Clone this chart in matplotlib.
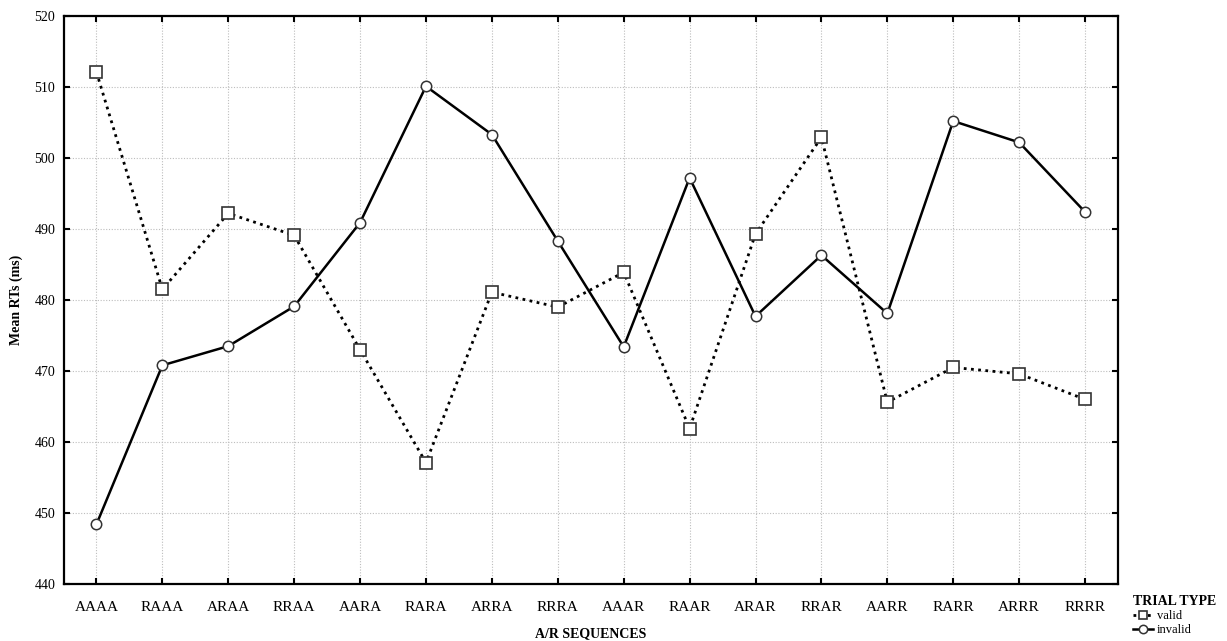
import matplotlib
matplotlib.use("Agg")
import matplotlib.pyplot as plt

sequences = ["AAAA", "RAAA", "ARAA", "RRAA", "AARA", "RARA", "ARRA", "RRRA",
             "AAAR", "RAAR", "ARAR", "RRAR", "AARR", "RARR", "ARRR", "RRRR"]
valid = [512.1, 481.5, 492.2, 489.1, 473.0, 457.1, 481.1, 479.0,
         483.9, 461.9, 489.3, 502.9, 465.6, 470.5, 469.6, 466.0]
invalid = [448.4, 470.8, 473.5, 479.1, 490.9, 510.1, 503.3, 488.3,
           473.4, 497.2, 477.7, 486.3, 478.1, 505.2, 502.2, 492.4]
y_ticks = [440, 450, 460, 470, 480, 490, 500, 510, 520]

plt.rcParams['font.family'] = ['Liberation Serif', 'DejaVu Serif']

fig = plt.figure(figsize=(12.27, 6.41), dpi=100)
ax = fig.add_axes([63.5 / 1227, 1 - 584 / 641, (1118 - 63.5) / 1227, (584 - 16) / 641])

x = list(range(len(sequences)))
ax.plot(x, valid, linestyle=(0, (1, 1.6)), color='black', linewidth=2.0,
        marker='s', markersize=8, markerfacecolor='white', markeredgecolor='#333333',
        markeredgewidth=1.2, label='valid', zorder=3)
ax.plot(x, invalid, linestyle='-', color='black', linewidth=1.8,
        marker='o', markersize=7.5, markerfacecolor='white', markeredgecolor='#333333',
        markeredgewidth=1.1, label='invalid', zorder=3)

ax.set_xlim(-0.5, 15.5)
ax.set_ylim(440, 520)
ax.set_xticks(x)
ax.set_xticklabels(sequences, fontsize=11)
ax.set_yticks(y_ticks)
ax.set_yticklabels([str(v) for v in y_ticks], fontsize=10)
ax.tick_params(direction='in', length=4, width=1.5, top=True, right=True)
ax.tick_params(axis='x', pad=12)
ax.tick_params(axis='y', pad=6)
for s in ax.spines.values():
    s.set_linewidth(1.6)

ax.grid(True, color='#bdbdbd', linestyle=(0, (1, 1.5)), linewidth=0.8, zorder=0)
ax.set_axisbelow(True)

ax.set_xlabel("A/R SEQUENCES", fontsize=10, fontweight='bold', labelpad=10)
ax.set_ylabel("Mean RTs (ms)", fontsize=10, fontweight='bold', labelpad=8)

leg = ax.legend(title="TRIAL TYPE", loc='upper left',
                bbox_to_anchor=(1127 / 1227, 1 - 589 / 641),
                bbox_transform=fig.transFigure, frameon=False,
                fontsize=9, title_fontproperties={'weight': 'bold', 'size': 10},
                handlelength=1.6, handletextpad=0.3, labelspacing=0.15,
                borderpad=0, alignment='left', markerscale=0.8)

fig.savefig("out.png", dpi=100)
